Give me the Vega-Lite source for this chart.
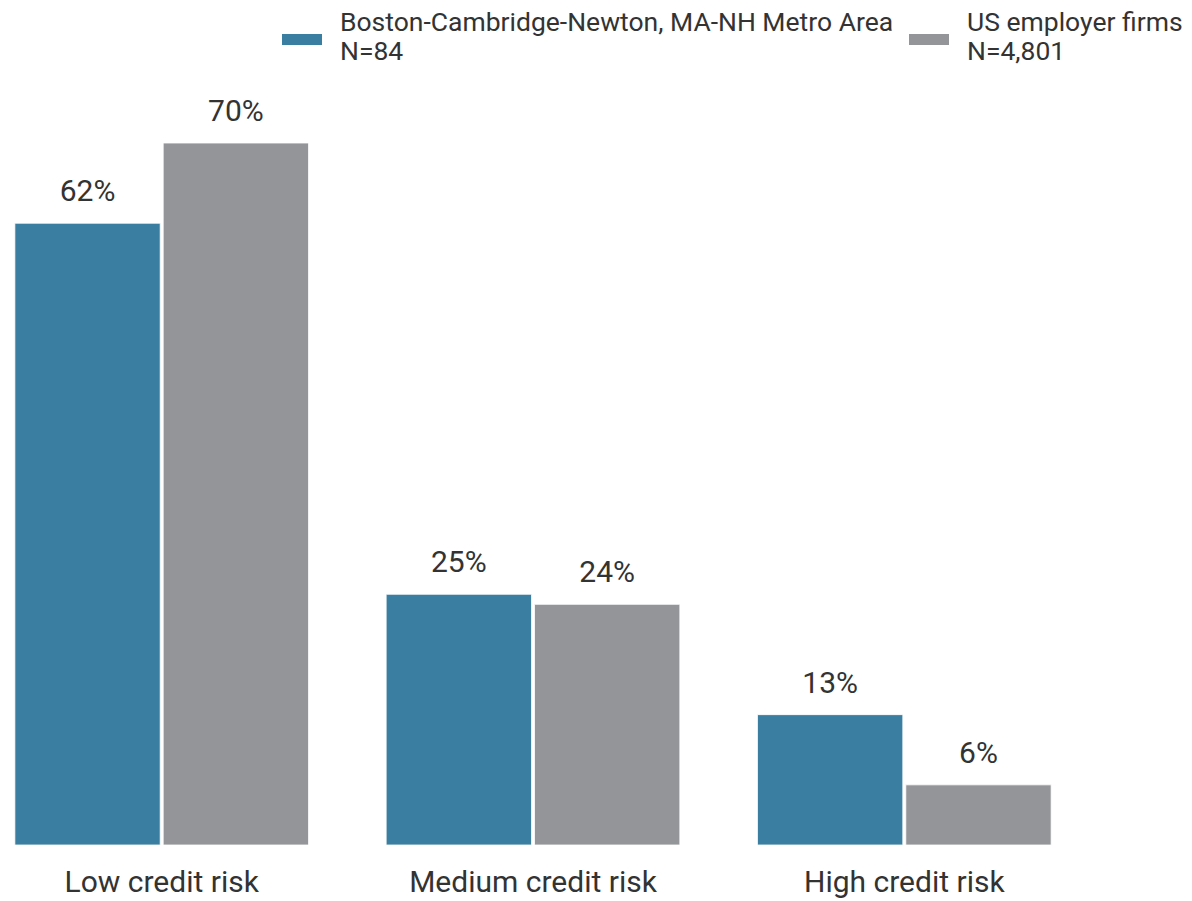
{
  "$schema": "https://vega.github.io/schema/vega-lite/v6.json",
  "width": 1066,
  "height": 702,
  "autosize": {"type": "none"},
  "padding": {"left": 0, "top": 143, "right": 126, "bottom": 56},
  "background": "#ffffff",
  "config": {
    "view": {"stroke": null},
    "font": "Roboto"
  },
  "data": {
    "values": [
      {"risk": "Low credit risk", "group": "Boston-Cambridge-Newton, MA-NH Metro Area|N=84", "value": 62},
      {"risk": "Low credit risk", "group": "US employer firms|N=4,801", "value": 70},
      {"risk": "Medium credit risk", "group": "Boston-Cambridge-Newton, MA-NH Metro Area|N=84", "value": 25},
      {"risk": "Medium credit risk", "group": "US employer firms|N=4,801", "value": 24},
      {"risk": "High credit risk", "group": "Boston-Cambridge-Newton, MA-NH Metro Area|N=84", "value": 13},
      {"risk": "High credit risk", "group": "US employer firms|N=4,801", "value": 6}
    ]
  },
  "encoding": {
    "x": {
      "field": "risk", "type": "nominal",
      "sort": ["Low credit risk", "Medium credit risk", "High credit risk"],
      "scale": {"paddingInner": 0.209, "paddingOuter": 0.04},
      "axis": {"title": null, "domain": false, "ticks": false, "labelAngle": 0, "labelFontSize": 30, "labelColor": "#333333", "labelPadding": 22, "labelFont": "Roboto", "labelLimit": 1000}
    },
    "xOffset": {
      "field": "group", "type": "nominal",
      "sort": ["Boston-Cambridge-Newton, MA-NH Metro Area|N=84", "US employer firms|N=4,801"],
      "scale": {"paddingInner": 0.02, "paddingOuter": 0}
    },
    "y": {
      "field": "value", "type": "quantitative",
      "scale": {"domain": [0, 70], "nice": false},
      "axis": null
    }
  },
  "layer": [
    {
      "mark": {"type": "bar", "stroke": "#ffffff", "strokeWidth": 0.8},
      "encoding": {
        "color": {
          "field": "group", "type": "nominal",
          "sort": ["Boston-Cambridge-Newton, MA-NH Metro Area|N=84", "US employer firms|N=4,801"],
          "scale": {"range": ["#3A7EA1", "#939598"]},
          "legend": {
            "title": null,
            "orient": "none",
            "direction": "horizontal",
            "legendX": 282,
            "legendY": -140,
            "columns": 2,
            "columnPadding": 15,
            "labelExpr": "split(datum.label, '|')",
            "labelFontSize": 26.5,
            "labelFont": "Roboto",
            "labelColor": "#333333",
            "labelLimit": 1000,
            "labelOffset": 18,
            "labelBaseline": "middle",
            "symbolType": "M-1,0.55H1V1.1H-1Z",
            "symbolSize": 1600,
            "symbolStrokeWidth": 0,
            "symbolOpacity": 1
          }
        }
      }
    },
    {
      "transform": [{"calculate": "datum.value + '%'", "as": "label"}],
      "mark": {"type": "text", "fontSize": 30, "font": "Roboto", "color": "#333333", "baseline": "alphabetic", "dy": -22},
      "encoding": {
        "text": {"field": "label", "type": "nominal"},
        "detail": {"field": "group"}
      }
    }
  ]
}
